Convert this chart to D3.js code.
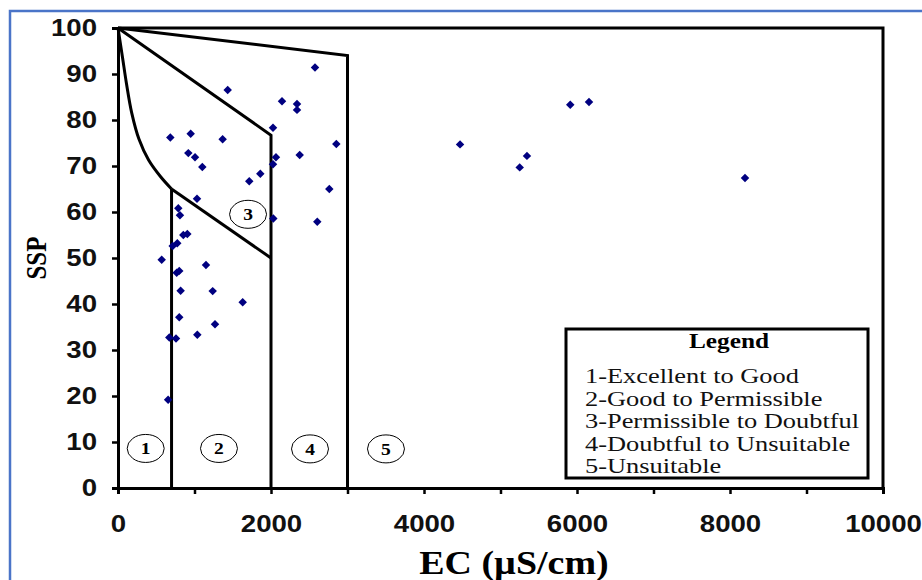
<!DOCTYPE html>
<html>
<head>
<meta charset="utf-8">
<script src="https://cdn.jsdelivr.net/npm/d3@7"></script>
<style>
  html, body { margin: 0; padding: 0; background: #ffffff; }
  svg { display: block; }
</style>
</head>
<body>
<svg id="chart" width="922" height="580"></svg>
<script>
// Sample measurements: electrical conductivity (µS/cm) and sodium percentage (SSP)
const ecValues = [
  2575, 1434, 2144, 2340, 2340, 2026, 684, 950, 1368, 2854,
  919, 1007, 1102, 2065, 2026, 2375, 1860, 1716, 2762, 1033,
  788, 810, 2030, 2605, 906, 854, 775, 715, 571, 1150,
  801, 767, 819, 1238, 1630, 801, 1268, 1037, 671, 758,
  655, 4471, 5346, 5251, 5912, 6157, 8196
];
const sspValues = [
  91.4, 86.5, 84.1, 83.5, 82.2, 78.3, 76.2, 77.0, 75.8, 74.8,
  72.8, 71.9, 69.8, 71.9, 70.4, 72.4, 68.3, 66.7, 65.0, 62.9,
  60.8, 59.3, 58.6, 57.9, 55.2, 55.0, 53.2, 52.6, 49.6, 48.5,
  47.2, 46.8, 42.9, 42.8, 40.4, 37.1, 35.6, 33.3, 32.7, 32.5,
  19.2, 74.7, 72.2, 69.7, 83.3, 83.9, 67.4
];

// Axis ticks
const xTicks = [0, 1000, 2000, 3000, 4000, 5000, 6000, 7000, 8000, 9000, 10000];
const xTickLabels = ["0", "", "2000", "", "4000", "", "6000", "", "8000", "", "10000"];
const yTicks = [0, 10, 20, 30, 40, 50, 60, 70, 80, 90, 100];

// Wilcox-type classification boundaries (EC, SSP)
const boundaryCurve = [[0, 100], [60, 93.5], [110, 88], [180, 81.5], [275, 75.8], [400, 71.3], [560, 67.6], [700, 65]];
const boundaryLower = [[700, 65], [2000, 50]];
const boundaryMiddle = [[0, 100], [2000, 76.7], [2000, 0]];
const boundaryUpper = [[0, 100], [3000, 94], [3000, 0]];
const boundaryExcellent = [[700, 65], [700, 0]];

// Class numbers placed inside each zone (EC, SSP)
const zoneIds = ["1", "2", "3", "4", "5"];
const zoneEC = [362, 1320, 1700, 2510, 3503];
const zoneSSP = [8.6, 8.6, 59.5, 8.5, 8.5];

const legendTitle = "Legend";
const legendItems = [
  "1-Excellent to Good",
  "2-Good to Permissible",
  "3-Permissible to Doubtful",
  "4-Doubtful to Unsuitable",
  "5-Unsuitable"
];

const xLabel = "EC (µS/cm)";
const yLabel = "SSP";

// ---------------------------------------------------------------
const svg = d3.select("#chart");
const SX = 1.15; // horizontal widening applied to text

const plot = { left: 118, right: 883, top: 28, bottom: 488 };
const x = d3.scaleLinear().domain([0, 10000]).range([plot.left, plot.right]);
const y = d3.scaleLinear().domain([0, 100]).range([plot.bottom, plot.top]);

// outer blue frame
svg.append("rect")
  .attr("x", 10).attr("y", 11)
  .attr("width", 940).attr("height", 620)
  .attr("fill", "none")
  .attr("stroke", "#4a74c8")
  .attr("stroke-width", 2.5);

// plot frame: top and right edges
svg.append("path")
  .attr("d", `M${plot.left},${plot.top}H${plot.right}V${plot.bottom}`)
  .attr("fill", "none")
  .attr("stroke", "#000")
  .attr("stroke-width", 3);

// axes
const yAxis = svg.append("g")
  .attr("transform", `translate(${plot.left},0)`)
  .call(d3.axisLeft(y).tickValues(yTicks).tickSize(6).tickPadding(15).tickFormat(d3.format("d")));
const xAxis = svg.append("g")
  .attr("transform", `translate(0,${plot.bottom})`)
  .call(d3.axisBottom(x).tickValues(xTicks).tickSize(6).tickPadding(21)
    .tickFormat((d, i) => xTickLabels[i]));

[yAxis, xAxis].forEach(g => {
  g.select(".domain").attr("stroke", "#000").attr("stroke-width", 3);
  g.selectAll(".tick line").attr("stroke", "#000").attr("stroke-width", 2.5);
  g.selectAll(".tick text")
    .attr("fill", "#111")
    .style("font-family", "'Liberation Sans', Arial, sans-serif")
    .style("font-weight", "bold")
    .style("font-size", "24px");
});
yAxis.selectAll(".tick text").each(function () {
  const t = d3.select(this);
  const tx = +t.attr("x");
  t.attr("x", 0).attr("transform", `translate(${tx},0) scale(${SX},1)`);
});
xAxis.selectAll(".tick text").each(function () {
  const t = d3.select(this);
  const ty = +t.attr("y");
  t.attr("y", 0).attr("transform", `translate(0,${ty}) scale(${SX},1)`);
});

// classification boundaries
const lineLinear = d3.line().x(d => x(d[0])).y(d => y(d[1]));
const lineCurve = d3.line().x(d => x(d[0])).y(d => y(d[1])).curve(d3.curveCatmullRom.alpha(0.5));
const boundaries = svg.append("g")
  .attr("fill", "none")
  .attr("stroke", "#000")
  .attr("stroke-width", 3)
  .attr("stroke-linejoin", "miter");
boundaries.append("path").attr("d", lineCurve(boundaryCurve));
boundaries.append("path").attr("d", lineLinear(boundaryLower));
boundaries.append("path").attr("d", lineLinear(boundaryMiddle));
boundaries.append("path").attr("d", lineLinear(boundaryUpper));
boundaries.append("path").attr("d", lineLinear(boundaryExcellent));

// zone numbers in ellipses
const zones = svg.append("g").selectAll("g")
  .data(zoneIds)
  .join("g")
  .attr("transform", (d, i) => `translate(${x(zoneEC[i])},${y(zoneSSP[i])})`);
zones.append("ellipse")
  .attr("rx", 18.5).attr("ry", 14)
  .attr("fill", "#fff")
  .attr("stroke", "#000")
  .attr("stroke-width", 1);
zones.append("text")
  .attr("text-anchor", "middle")
  .attr("dy", "0.35em")
  .attr("transform", `scale(${SX},1)`)
  .style("font-family", "'Liberation Serif', 'Times New Roman', serif")
  .style("font-weight", "bold")
  .style("font-size", "17px")
  .text(d => d);

// sample points
const diamond = d3.symbol().type(d3.symbolSquare).size(36);
svg.append("g")
  .selectAll("path")
  .data(ecValues)
  .join("path")
  .attr("d", diamond)
  .attr("transform", (d, i) => `translate(${x(d)},${y(sspValues[i])}) rotate(45)`)
  .attr("fill", "#000080");

// legend
const legend = svg.append("g");
legend.append("rect")
  .attr("x", 566).attr("y", 329)
  .attr("width", 302).attr("height", 149)
  .attr("fill", "#fff")
  .attr("stroke", "#000")
  .attr("stroke-width", 3);
legend.append("text")
  .attr("transform", `translate(729,348) scale(${SX},1)`)
  .attr("text-anchor", "middle")
  .style("font-family", "'Liberation Serif', 'Times New Roman', serif")
  .style("font-weight", "bold")
  .style("font-size", "22px")
  .text(legendTitle);
legend.selectAll("text.item")
  .data(legendItems)
  .join("text")
  .attr("class", "item")
  .attr("transform", (d, i) => `translate(585,${383 + i * 22.5}) scale(1.2,1)`)
  .style("font-family", "'Liberation Serif', 'Times New Roman', serif")
  .style("font-size", "22px")
  .attr("fill", "#111")
  .text(d => d);

// axis titles
svg.append("text")
  .attr("transform", `translate(514,574) scale(${SX},1)`)
  .attr("text-anchor", "middle")
  .style("font-family", "'Liberation Serif', 'Times New Roman', serif")
  .style("font-weight", "bold")
  .style("font-size", "33px")
  .text(xLabel);
svg.append("text")
  .attr("transform", `translate(46,258) scale(${SX},1) rotate(-90)`)
  .attr("text-anchor", "middle")
  .style("font-family", "'Liberation Serif', 'Times New Roman', serif")
  .style("font-weight", "bold")
  .style("font-size", "25px")
  .text(yLabel);
</script>
</body>
</html>
